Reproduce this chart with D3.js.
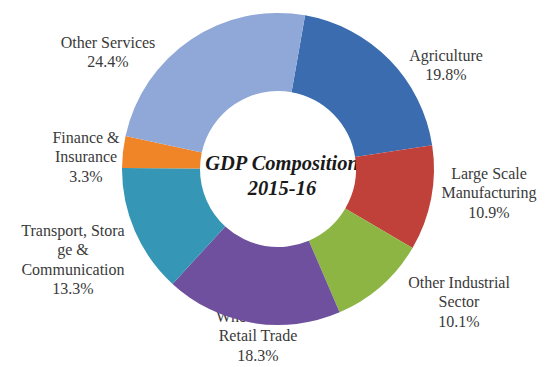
<!DOCTYPE html>
<html>
<head>
<meta charset="utf-8">
<script src="https://cdn.jsdelivr.net/npm/d3@7"></script>
<style>
  html, body { margin: 0; padding: 0; background: #fff; }
  svg { display: block; }
  svg text { font-family: "Liberation Serif", "Times New Roman", Times, "DejaVu Serif", serif; }
</style>
</head>
<body>
<svg id="chart" width="546" height="367"></svg>
<script>
// GDP composition by sector, 2015-16 (percent of GDP)
const sectors = [
  "Agriculture",
  "Large Scale Manufacturing",
  "Other Industrial Sector",
  "Wholesale & Retail Trade",
  "Transport, Storage & Communication",
  "Finance & Insurance",
  "Other Services"
];
const shares = [19.8, 10.9, 10.1, 18.3, 13.3, 3.3, 24.4];
const labelLines = [
  ["Agriculture"],
  ["Large Scale", "Manufacturing"],
  ["Other Industrial", "Sector"],
  ["Wholesale &", "Retail Trade"],
  ["Transport, Stora", "ge &", "Communication"],
  ["Finance &", "Insurance"],
  ["Other Services"]
];
const sliceColors = ["#3B6CAF", "#C0403A", "#8DB544", "#6E509E", "#3597B5", "#F08528", "#8FA8D7"];
const titleLines = ["GDP Composition", "2015-16"];

// Layout
const cx = 278, cy = 169;
const outerR = 156, innerR = 78;
const startDeg = 10;
// label anchor (centre x, first line y) per sector
const labelAnchor = [
  [446, 55], [489, 173], [459, 282], [258, 316], [73, 230], [86, 137], [108, 42]
];
const lineH = 19.5;

const svg = d3.select("#chart");

// Labels sit beneath the ring, so draw them first
const labels = svg.append("g")
  .style("font-size", "16px")
  .attr("fill", "#3a3a3a")
  .attr("text-anchor", "middle");

sectors.forEach((s, i) => {
  const lines = labelLines[i].concat([shares[i].toFixed(1) + "%"]);
  const [lx, ly] = labelAnchor[i];
  const t = labels.append("text").attr("x", lx).attr("y", ly);
  lines.forEach((ln, k) => {
    t.append("tspan")
      .attr("x", lx)
      .attr("y", ly + k * lineH)
      .attr("dy", "0.35em")
      .text(ln);
  });
});

// Centre title
const title = svg.append("text")
  .style("font-size", "20.5px")
  .style("font-weight", "bold")
  .style("font-style", "italic")
  .attr("fill", "#1a1a1a")
  .attr("text-anchor", "middle");
titleLines.forEach((ln, k) => {
  title.append("tspan")
    .attr("x", 282)
    .attr("y", 163 + k * 25)
    .attr("dy", "0.35em")
    .text(ln);
});

// Donut ring
const toRad = d => d * Math.PI / 180;
const pie = d3.pie()
  .sort(null)
  .value(d => d)
  .startAngle(toRad(startDeg))
  .endAngle(toRad(startDeg + 360));
const arc = d3.arc().innerRadius(innerR).outerRadius(outerR);
const color = d3.scaleOrdinal().domain(sectors).range(sliceColors);

svg.append("g")
  .attr("transform", `translate(${cx},${cy})`)
  .selectAll("path")
  .data(pie(shares))
  .join("path")
  .attr("d", arc)
  .attr("fill", (d, i) => color(sectors[i]));
</script>
</body>
</html>
